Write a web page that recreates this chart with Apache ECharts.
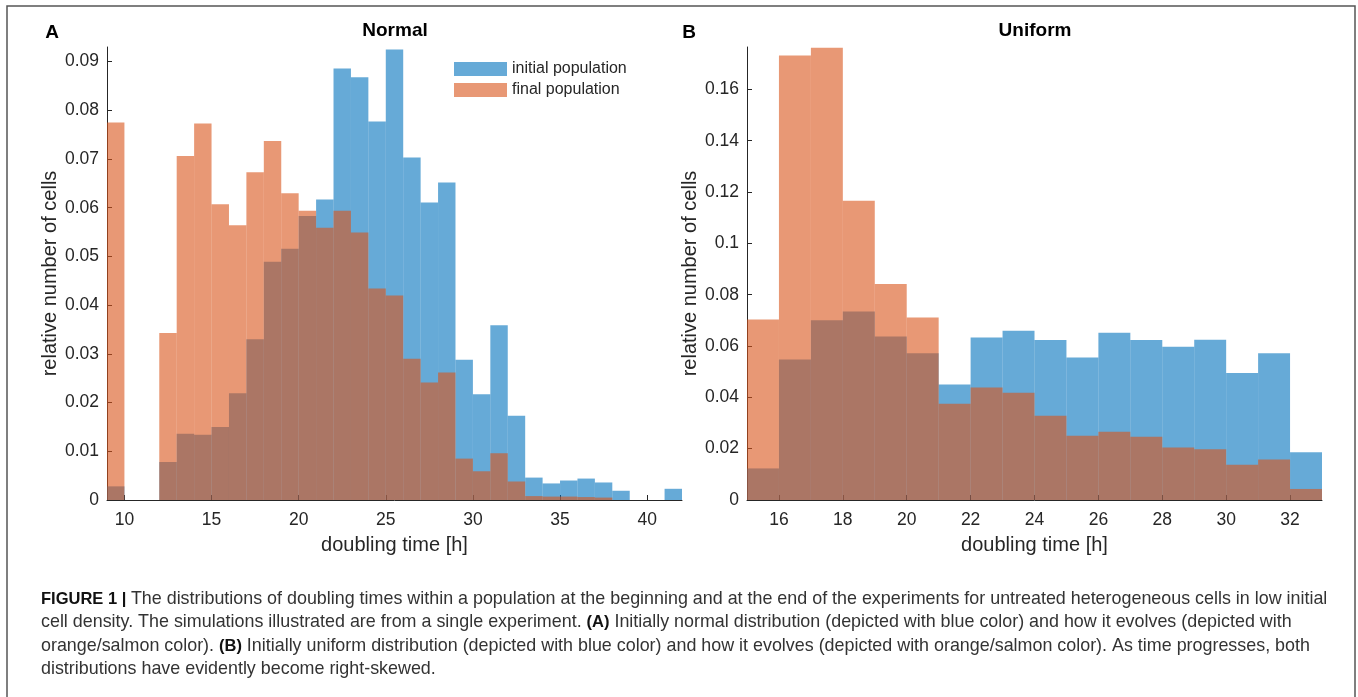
<!DOCTYPE html>
<html>
<head>
<meta charset="utf-8">
<title>Doubling time distributions</title>
<script src="https://cdn.jsdelivr.net/npm/echarts@6/dist/echarts.min.js"></script>
<style>
  html, body { margin: 0; padding: 0; background: #fff; }
  #chart { width: 1358px; height: 697px; }
</style>
</head>
<body>
<div id="chart"></div>
<script>
// Panel A: initially normal distribution, bins of 1 h starting at binStartA
const binStartA = [9,10,11,12,13,14,15,16,17,18,19,20,21,22,23,24,25,26,27,28,29,30,31,32,33,34,35,36,37,38,39,40,41];
const initialA = [0.0028,0,0,0.0078,0.0136,0.0134,0.0150,0.0219,0.0330,0.0489,0.0516,0.0583,0.0617,0.0886,0.0868,0.0777,0.0925,0.0703,0.0611,0.0652,0.0288,0.0217,0.0359,0.0173,0.0046,0.0034,0.0040,0.0044,0.0036,0.0019,0,0,0.0023];
const finalA = [0.0775,0,0,0.0343,0.0706,0.0773,0.0607,0.0564,0.0673,0.0737,0.0630,0.0594,0.0559,0.0594,0.0549,0.0434,0.0420,0.0290,0.0241,0.0262,0.0085,0.0059,0.0096,0.0038,0.0008,0.0007,0.0007,0.0006,0.0005,0,0,0,0];

// Panel B: initially uniform distribution
const binStartB = [15,16,17,18,19,20,21,22,23,24,25,26,27,28,29,30,31,32];
const initialB = [0.0123,0.0547,0.0700,0.0734,0.0637,0.0572,0.0450,0.0633,0.0659,0.0623,0.0555,0.0652,0.0623,0.0597,0.0624,0.0495,0.0572,0.0186];
const finalB = [0.0703,0.1732,0.1762,0.1166,0.0842,0.0711,0.0375,0.0438,0.0418,0.0328,0.0250,0.0266,0.0246,0.0205,0.0198,0.0137,0.0158,0.0043];

// Tick positions and labels
const xTicksA = [10,15,20,25,30,35,40];
const yTicksA = [0,0.01,0.02,0.03,0.04,0.05,0.06,0.07,0.08,0.09];
const yLabelsA = ['0','0.01','0.02','0.03','0.04','0.05','0.06','0.07','0.08','0.09'];
const xTicksB = [16,18,20,22,24,26,28,30,32];
const yTicksB = [0,0.02,0.04,0.06,0.08,0.1,0.12,0.14,0.16];
const yLabelsB = ['0','0.02','0.04','0.06','0.08','0.1','0.12','0.14','0.16'];

const BIN_WIDTH = 1;
const BLUE = 'rgba(0,114,189,0.6)';
const ORANGE = 'rgba(217,83,25,0.6)';
const AXIS = '#262626';
const FONT = 'Liberation Sans, Arial, Helvetica, sans-serif';

function histItem(color) {
  return function (params, api) {
    const x0 = api.value(0);
    const v = api.value(1);
    if (!v) return null;
    const p0 = api.coord([x0, 0]);
    const p1 = api.coord([x0 + BIN_WIDTH, v]);
    return {
      type: 'rect',
      shape: { x: p0[0], y: p1[1], width: p1[0] - p0[0], height: p0[1] - p1[1] },
      style: { fill: color }
    };
  };
}

function pairs(starts, vals) { return starts.map((s, i) => [s, vals[i]]); }

function xAxisCfg(gridIndex, min, max, ticks) {
  return {
    type: 'value', gridIndex, min, max,
    name: 'doubling time [h]', nameLocation: 'middle', nameGap: 35,
    nameTextStyle: { fontSize: 20, color: AXIS, fontFamily: FONT },
    axisLine: { show: true, lineStyle: { color: AXIS, width: 1 } },
    axisTick: { show: true, inside: true, length: 5, customValues: ticks, lineStyle: { color: AXIS } },
    axisLabel: { customValues: ticks, fontSize: 17.5, color: AXIS, margin: 11, fontFamily: FONT },
    splitLine: { show: false }
  };
}

function yAxisCfg(gridIndex, max, ticks, labels) {
  return {
    type: 'value', gridIndex, min: 0, max,
    name: 'relative number of cells', nameLocation: 'middle', nameGap: 47,
    nameTextStyle: { fontSize: 20, color: AXIS, fontFamily: FONT },
    axisLine: { show: true, lineStyle: { color: AXIS, width: 1 } },
    axisTick: { show: true, inside: true, length: 5, customValues: ticks, lineStyle: { color: AXIS } },
    axisLabel: {
      customValues: ticks, fontSize: 17.5, color: AXIS, margin: 8, fontFamily: FONT,
      formatter: (v) => { const i = ticks.findIndex(t => Math.abs(t - v) < 1e-9); return i >= 0 ? labels[i] : ''; }
    },
    splitLine: { show: false }
  };
}

const chart = echarts.init(document.getElementById('chart'), null, { renderer: 'canvas' });

const captionLines = [
  [{ b: 'FIGURE 1 | ' }, { r: 'The distributions of doubling times within a population at the beginning and at the end of the experiments for untreated heterogeneous cells in low initial' }],
  [{ r: 'cell density. The simulations illustrated are from a single experiment. ' }, { b: '(A)' }, { r: ' Initially normal distribution (depicted with blue color) and how it evolves (depicted with' }],
  [{ r: 'orange/salmon color). ' }, { b: '(B)' }, { r: ' Initially uniform distribution (depicted with blue color) and how it evolves (depicted with orange/salmon color). As time progresses, both' }],
  [{ r: 'distributions have evidently become right-skewed.' }]
];

const captionGraphics = captionLines.map((parts, i) => ({
  type: 'text', x: 41, y: 599 + i * 23.5,
  style: {
    text: parts.map(p => p.b !== undefined ? '{b|' + p.b + '}' : '{r|' + p.r + '}').join(''),
    verticalAlign: 'middle',
    rich: {
      b: { fontSize: 16.5, fontWeight: 'bold', fill: '#111', fontFamily: FONT },
      r: { fontSize: 17.9, fill: '#333', fontFamily: FONT }
    }
  }
}));

chart.setOption({
  animation: false,
  backgroundColor: '#fff',
  grid: [
    { left: 107, right: 676, top: 47, bottom: 197, containLabel: false },
    { left: 747, right: 36, top: 47, bottom: 197, containLabel: false }
  ],
  xAxis: [
    xAxisCfg(0, 9, 42, xTicksA),
    xAxisCfg(1, 15, 33, xTicksB)
  ],
  yAxis: [
    yAxisCfg(0, 0.093, yTicksA, yLabelsA),
    yAxisCfg(1, 0.1765, yTicksB, yLabelsB)
  ],
  legend: {
    left: 449, top: 56, orient: 'vertical', itemGap: 5,
    itemWidth: 53, itemHeight: 14, icon: 'rect',
    textStyle: { fontSize: 16, color: AXIS, fontFamily: FONT },
    data: [
      { name: 'initial population', itemStyle: { color: BLUE } },
      { name: 'final population', itemStyle: { color: ORANGE } }
    ]
  },
  series: [
    { name: 'initial population', type: 'custom', xAxisIndex: 0, yAxisIndex: 0, renderItem: histItem(BLUE), itemStyle: { color: BLUE }, data: pairs(binStartA, initialA), encode: { x: 0, y: 1 } },
    { name: 'final population', type: 'custom', xAxisIndex: 0, yAxisIndex: 0, renderItem: histItem(ORANGE), itemStyle: { color: ORANGE }, data: pairs(binStartA, finalA), encode: { x: 0, y: 1 } },
    { name: 'initial population', type: 'custom', xAxisIndex: 1, yAxisIndex: 1, renderItem: histItem(BLUE), itemStyle: { color: BLUE }, data: pairs(binStartB, initialB), encode: { x: 0, y: 1 } },
    { name: 'final population', type: 'custom', xAxisIndex: 1, yAxisIndex: 1, renderItem: histItem(ORANGE), itemStyle: { color: ORANGE }, data: pairs(binStartB, finalB), encode: { x: 0, y: 1 } }
  ],
  graphic: [
    // figure frame
    { type: 'polyline', shape: { points: [[7, 700], [7, 6], [1355, 6], [1355, 700]] }, style: { stroke: '#555', lineWidth: 1.5, fill: null } },
    { type: 'text', x: 52, y: 33, style: { text: 'A', fontSize: 19, fontWeight: 'bold', fill: '#000', align: 'center', verticalAlign: 'middle', fontFamily: FONT } },
    { type: 'text', x: 689, y: 33, style: { text: 'B', fontSize: 19, fontWeight: 'bold', fill: '#000', align: 'center', verticalAlign: 'middle', fontFamily: FONT } },
    { type: 'text', x: 395, y: 31, style: { text: 'Normal', fontSize: 19, fontWeight: 'bold', fill: '#000', align: 'center', verticalAlign: 'middle', fontFamily: FONT } },
    { type: 'text', x: 1035, y: 31, style: { text: 'Uniform', fontSize: 19, fontWeight: 'bold', fill: '#000', align: 'center', verticalAlign: 'middle', fontFamily: FONT } }
  ].concat(captionGraphics)
});
</script>
</body>
</html>
